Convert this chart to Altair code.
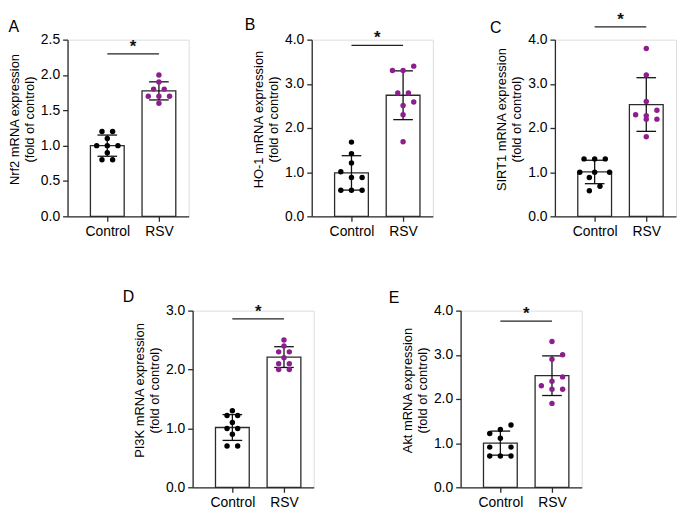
import altair as alt
import pandas as pd

FONT = "Liberation Sans"
GROUPS = ["Control", "RSV"]
COLORS = ["#000000", "#8E1E8E"]
AXIS_C = "#2b2b2b"

# ---- data ----
# A: Nrf2
a_ctrl = [1.20, 1.20, 1.10, 1.00, 1.00, 1.00, 0.90, 0.80, 0.80]
a_ctrl_col = [-0.5, 0.5, 0, -1, 0, 1, 0, -0.5, 0.5]
a_rsv = [2.00, 1.90, 1.80, 1.80, 1.70, 1.70, 1.70, 1.60]
a_rsv_col = [0, 0, -0.5, 0.5, -1, 0, 1, 0]
# B: HO-1
b_ctrl = [1.68, 1.42, 1.21, 1.01, 0.88, 0.88, 0.59, 0.59, 0.59]
b_ctrl_col = [0, 0, 0, -1, 0, 1, -1, 0, 1]
b_rsv = [3.40, 3.30, 3.30, 2.79, 2.79, 2.59, 2.51, 2.30, 1.69]
b_rsv_col = [1, -1, 0, -0.5, 0.5, 1, 0, 0, 0]
# C: SIRT1
c_ctrl = [1.30, 1.30, 1.30, 1.00, 1.00, 1.00, 0.88, 0.68, 0.58]
c_ctrl_col = [-1, 0, 1, -1.4, 0, 1.4, -0.5, 0.5, -0.5]
c_rsv = [3.80, 3.20, 2.60, 2.40, 2.30, 2.28, 2.20, 2.20, 1.80]
c_rsv_col = [0, 0, 0, 1, -1, 0, 0, 1, 0]
# D: PI3K
d_ctrl = [1.30, 1.22, 1.22, 1.10, 1.00, 1.00, 0.90, 0.70, 0.70]
d_ctrl_col = [0, -0.5, 0.5, 0, -0.5, 0.5, 0, -0.5, 0.5]
d_rsv = [2.50, 2.40, 2.30, 2.30, 2.20, 2.10, 2.10, 2.00, 2.00]
d_rsv_col = [0, 0, -0.5, 0.5, 0, -0.5, 0.5, -0.5, 0.5]
# E: Akt
e_ctrl = [1.41, 1.31, 1.22, 1.11, 0.91, 0.91, 0.71, 0.71, 0.71]
e_ctrl_col = [1, 0, -1, 0, -1, 1, -1, 0, 1]
e_rsv = [3.30, 3.00, 2.90, 2.50, 2.40, 2.30, 2.22, 2.22, 1.90]
e_rsv_col = [0, 1, 0, 1, 0, -1, 0, 1, 0]

W, H = 122, 178
XDOM = [-0.77, 1.576]
BAR_HALF = 0.327
CAP_HALF = 0.19
COL_STEP = 0.206

LABEL_EXPR = " : ".join(f"datum.value == {i} ? '{g}'" for i, g in enumerate(GROUPS[:-1])) + f" : '{GROUPS[-1]}'"


def panel(letter, ytitle, ymax, ticks, ctrl, ctrl_col, rsv, rsv_col, sig_y, title_dx, title_dy):
    df = pd.DataFrame({
        "group": ["Control"] * len(ctrl) + ["RSV"] * len(rsv),
        "pos": [0] * len(ctrl) + [1] * len(rsv),
        "value": ctrl + rsv,
        "col": ctrl_col + rsv_col,
    })
    sig = pd.DataFrame({"x1": [0], "x2": [len(GROUPS) - 1], "y": [sig_y], "label": ["*"]})

    xs = alt.Scale(domain=XDOM, nice=False, zero=False, padding=0)
    xaxis = alt.Axis(title=None, values=list(range(len(GROUPS))), labelExpr=LABEL_EXPR, labelAngle=0,
                     tickSize=5, labelPadding=3, grid=False, labelFontSize=14, labelColor="black",
                     labelFont=FONT, domainColor=AXIS_C, tickColor=AXIS_C, domainWidth=1.3,
                     tickWidth=1.3, labelFlush=False)
    ys = alt.Scale(domain=[0, ymax], nice=False, zero=True, padding=0)
    yaxis = alt.Axis(values=ticks, format=".1f", tickSize=5, labelPadding=3, grid=False,
                     labelOverlap=False, labelFlush=False, tickCount=len(ticks),
                     labelFontSize=14, labelColor="black", labelFont=FONT,
                     title=ytitle, titleFontSize=13, titleFontWeight="normal", titleColor="black",
                     titleFont=FONT, titleLineHeight=15, titlePadding=4, titleY=H / 2 - 9,
                     domainColor=AXIS_C, tickColor=AXIS_C, domainWidth=1.3, tickWidth=1.3)

    base = alt.Chart(df)
    stats = base.transform_aggregate(
        m="mean(value)", s="stdev(value)", groupby=["group", "pos"]
    ).transform_calculate(
        lo="datum.m - datum.s", hi="datum.m + datum.s",
        bl=f"datum.pos - {BAR_HALF}", br=f"datum.pos + {BAR_HALF}",
        cl=f"datum.pos - {CAP_HALF}", cr=f"datum.pos + {CAP_HALF}",
    )
    bars = stats.mark_bar(fill="white", stroke=AXIS_C, strokeWidth=1.3).encode(
        x=alt.X("bl:Q", scale=xs, axis=xaxis), x2="br:Q",
        y=alt.Y("m:Q", scale=ys, axis=yaxis), y2=alt.datum(0))
    rule = stats.mark_rule(color="#111111", strokeWidth=1.3).encode(
        x=alt.X("pos:Q", scale=xs), y=alt.Y("lo:Q", scale=ys), y2="hi:Q")
    caps = stats.transform_fold(["lo", "hi"], as_=["k", "v"]).mark_rule(
        color="#111111", strokeWidth=1.3).encode(
        x=alt.X("cl:Q", scale=xs), x2="cr:Q", y=alt.Y("v:Q", scale=ys))
    pts = base.transform_calculate(xp=f"datum.pos + datum.col * {COL_STEP}").mark_circle(
        size=30, opacity=1).encode(
        x=alt.X("xp:Q", scale=xs),
        y=alt.Y("value:Q", scale=ys),
        color=alt.Color("group:N", scale=alt.Scale(domain=GROUPS, range=COLORS), legend=None))
    line = alt.Chart(sig).mark_rule(color="#222222", strokeWidth=1.3).encode(
        x=alt.X("x1:Q", scale=xs), x2="x2:Q", y=alt.Y("y:Q", scale=ys))
    txt = alt.Chart(sig).transform_calculate(xm="(datum.x1 + datum.x2) / 2").mark_text(
        font=FONT, fontSize=17, fontWeight="bold", color="#111111",
        baseline="alphabetic", dy=-2).encode(
        x=alt.X("xm:Q", scale=xs), y=alt.Y("y:Q", scale=ys), text="label:N")

    return alt.layer(bars, rule, caps, pts, line, txt).properties(
        width=W, height=H,
        title=alt.Title(letter, anchor="start", frame="bounds", fontSize=16, fontWeight="normal",
                        font=FONT, color="black", offset=-2, dx=title_dx, dy=title_dy))


A = panel("A", ["Nrf2 mRNA expression", "(fold of control)"], 2.5, [0, 0.5, 1.0, 1.5, 2.0, 2.5],
          a_ctrl, a_ctrl_col, a_rsv, a_rsv_col, 2.30, 0, 0)
B = panel("B", ["HO-1 mRNA expression", "(fold of control)"], 4.0, [0, 1, 2, 3, 4],
          b_ctrl, b_ctrl_col, b_rsv, b_rsv_col, 3.87, -8, 1)
C = panel("C", ["SIRT1 mRNA expression", "(fold of control)"], 4.0, [0, 1, 2, 3, 4],
          c_ctrl, c_ctrl_col, c_rsv, c_rsv_col, 4.29, -6, 23)
D = panel("D", ["PI3K mRNA expression", "(fold of control)"], 3.0, [0, 1, 2, 3],
          d_ctrl, d_ctrl_col, d_rsv, d_rsv_col, 2.86, -11, 0)
E = panel("E", ["Akt mRNA expression", "(fold of control)"], 4.0, [0, 1, 2, 3, 4],
          e_ctrl, e_ctrl_col, e_rsv, e_rsv_col, 3.76, -13, 0)

spacer = alt.Chart(pd.DataFrame({"t": [""]})).mark_text().encode(text="t:N").properties(width=45, height=10)

top = alt.hconcat(alt.hconcat(A, B, spacing=55), C, spacing=56)
bottom = alt.hconcat(spacer, alt.hconcat(D, E, spacing=74), spacing=10)
chart = alt.vconcat(top, bottom, spacing=49).properties(
    padding={"left": 0, "top": 0, "right": 0, "bottom": 0}
).configure_view(stroke=None).configure_axis(labelOverlap=False).configure(font=FONT)

chart.save("out.html", embed_options={"renderer": "svg", "actions": False})
